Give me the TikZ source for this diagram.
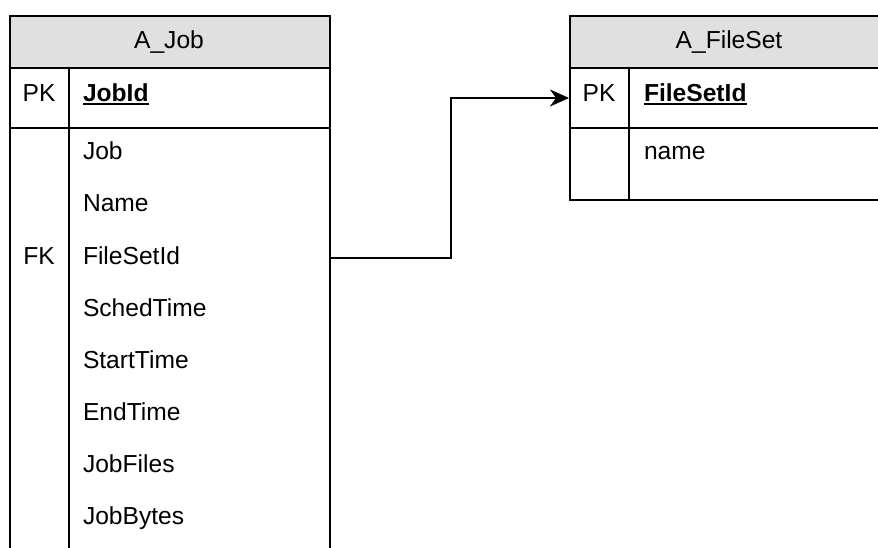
\documentclass[tikz,border=0pt]{standalone}
\usepackage{fontspec}
\setmainfont{Liberation Sans}
\usetikzlibrary{arrows.meta}
\definecolor{hdrgray}{RGB}{224,224,224}
\newsavebox\kbox
\newcommand{\keyname}[1]{\sbox\kbox{\textbf{#1}}\usebox\kbox\kern-\wd\kbox\rule[-3.2pt]{\wd\kbox}{1.8pt}}
\begin{document}
\begin{tikzpicture}[x=1pt,y=-1pt,line width=2pt,
  every node/.style={inner sep=0pt,font=\fontsize{24.6}{28}\selectfont},
  hdrbox/.style={draw=black,fill=hdrgray,line width=2pt,minimum width=320pt,minimum height=52pt,anchor=north west},
  rowbox/.style={draw=black,line width=2pt,minimum width=320pt,anchor=north west},
  rowarea/.style={minimum width=320pt,minimum height=52pt,anchor=north west},
  hdrtext/.style={anchor=base},
  fieldtext/.style={anchor=base west},
  keytext/.style={anchor=base},
  link/.style={draw=black,line width=2pt,-{Stealth[length=19pt,width=17pt,inset=6pt]}}
]
\useasboundingbox (0,0) rectangle (878,548);
\clip (0,0) rectangle (878,548);

% ---- A_Job table ----
\node[hdrbox] (jobhdr) at (9,15) {};
\node[hdrtext] (jobtitle) at (169,48.5) {A\_Job};
\node[rowbox,minimum height=60pt] (jobpk) at (9,67) {};
\node[rowbox,minimum height=500pt] (jobbody) at (9,127) {};
\draw ([xshift=60pt]jobpk.north west) -- ([xshift=60pt]jobbody.south west);
\node[keytext] (jobpklbl) at (39,102) {PK};
\node[fieldtext] (jobid) at (82,102) {\keyname{JobId}};
\node[fieldtext] (fjob) at (82,160) {Job};
\node[fieldtext] (fname) at (82,212) {Name};
\node[keytext] (jobfklbl) at (39,264) {FK};
\node[fieldtext] (ffs) at (82,264) {FileSetId};
\node[fieldtext] (fsched) at (82,316) {SchedTime};
\node[fieldtext] (fstart) at (82,368) {StartTime};
\node[fieldtext] (fend) at (82,420) {EndTime};
\node[fieldtext] (ffiles) at (82,472) {JobFiles};
\node[fieldtext] (fbytes) at (82,524) {JobBytes};
\node[rowarea] (jobfkrow) at (9,231) {};

% ---- A_FileSet table ----
\node[hdrbox] (fshdr) at (569,15) {};
\node[hdrtext] (fstitle) at (729,48.5) {A\_FileSet};
\node[rowbox,minimum height=60pt] (fspk) at (569,67) {};
\node[rowbox,minimum height=72pt] (fsbody) at (569,127) {};
\draw ([xshift=60pt]fspk.north west) -- ([xshift=60pt]fsbody.south west);
\node[keytext] (fspklbl) at (599,102) {PK};
\node[fieldtext] (fsid) at (643,102) {\keyname{FileSetId}};
\node[fieldtext] (fsname) at (643,160) {name};

% ---- connector ----
\draw[link] (jobfkrow.east) -- ++(120,0) |- (fspk.west);
\end{tikzpicture}
\end{document}
